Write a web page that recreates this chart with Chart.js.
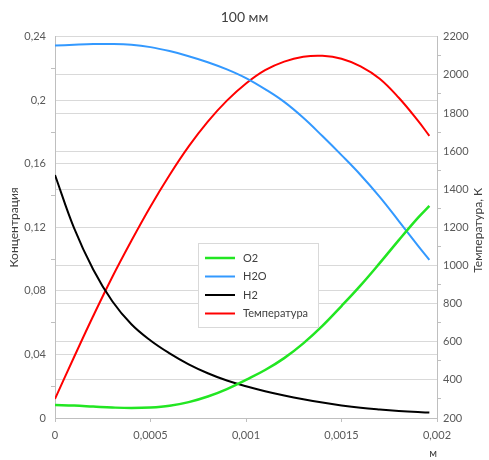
<!DOCTYPE html>
<html>
<head>
<meta charset="utf-8">
<script src="https://cdn.jsdelivr.net/npm/chart.js@4"></script>
<style>
  body { margin: 0; background: #fff; }
</style>
</head>
<body>
<canvas id="myChart" width="489" height="460"></canvas>
<script>
// distance, m
const xs = [0, 0.0001, 0.0002, 0.0003, 0.0004, 0.0005, 0.0006, 0.0007, 0.0008, 0.0009, 0.001,
    0.0011, 0.0012, 0.0013, 0.0014, 0.0015, 0.0016, 0.0017, 0.0018, 0.0019, 0.00196];

const o2 = [0.0082, 0.0078, 0.0072, 0.0066, 0.0063, 0.0066, 0.0077, 0.0100, 0.0135, 0.0182, 0.0240,
    0.0302, 0.0377, 0.0470, 0.0580, 0.0705, 0.0835, 0.0975, 0.1120, 0.1260, 0.1335];
const h2o = [0.2345, 0.2350, 0.2354, 0.2355, 0.2350, 0.2335, 0.2310, 0.2278, 0.2240, 0.2195, 0.2140,
    0.2070, 0.1990, 0.1890, 0.1775, 0.1655, 0.1530, 0.1392, 0.1240, 0.1085, 0.0995];
const h2 = [0.153, 0.1195, 0.0935, 0.0735, 0.0590, 0.0488, 0.0407, 0.0338, 0.0282, 0.0236, 0.0200,
    0.0169, 0.0142, 0.0118, 0.0097, 0.0079, 0.0064, 0.0053, 0.0044, 0.0037, 0.0034];
const temp = [300, 520, 735, 940, 1130, 1310, 1475, 1625, 1755, 1865, 1955,
    2025, 2070, 2095, 2100, 2085, 2045, 1980, 1880, 1760, 1680];

const seriesNames = ['O2', 'H2O', 'H2', 'Температура'];
const chartTitle = '100 мм';
const xTitle = 'м';
const leftTitle = 'Концентрация';
const rightTitle = 'Температура, К';

const FONT = 'Lato, "Noto Sans", "Liberation Sans", sans-serif';
const pts = (arr) => xs.map((x, i) => ({ x: x, y: arr[i] }));
const comma = (v) => String(+v.toFixed(5)).replace('.', ',');

// legend box inside the plot + right axis title reading upward
const extras = {
    id: 'extras',
    afterDraw(chart) {
        const c = chart.ctx;
        const sets = chart.data.datasets;
        const bx = 198, by = 243, bw = 120, bh = 84;
        c.save();
        c.fillStyle = '#ffffff';
        c.fillRect(bx, by, bw, bh);
        c.strokeStyle = '#d9d9d9';
        c.lineWidth = 1;
        c.strokeRect(bx + 0.5, by + 0.5, bw, bh);
        c.font = '11px ' + FONT;
        c.textBaseline = 'middle';
        sets.forEach((ds, i) => {
            const y = by + 15 + i * 18.5;
            c.strokeStyle = ds.borderColor;
            c.lineWidth = ds.borderWidth;
            c.beginPath();
            c.moveTo(bx + 7, y);
            c.lineTo(bx + 37, y);
            c.stroke();
            c.fillStyle = '#404040';
            c.fillText(ds.label, bx + 45, y);
        });
        const s = chart.scales.yT;
        c.translate(478, (s.top + s.bottom) / 2 + 3);
        c.rotate(-Math.PI / 2);
        c.textAlign = 'center';
        c.font = '12px ' + FONT;
        c.fillStyle = '#404040';
        c.fillText(rightTitle, 0, 0);
        c.restore();
    }
};

const isMajorY = (v) => Math.round(v / 0.02) % 2 === 0;
const isMajorT = (v) => Math.round(v / 100) % 2 === 0;

new Chart(document.getElementById('myChart'), {
    type: 'line',
    data: {
        datasets: [
            { label: seriesNames[0], data: pts(o2), borderColor: '#22e622', borderWidth: 2.5, yAxisID: 'y' },
            { label: seriesNames[1], data: pts(h2o), borderColor: '#3399ff', borderWidth: 2, yAxisID: 'y' },
            { label: seriesNames[2], data: pts(h2), borderColor: '#000000', borderWidth: 2, yAxisID: 'y' },
            { label: seriesNames[3], data: pts(temp), borderColor: '#ff0000', borderWidth: 2, yAxisID: 'yT' }
        ]
    },
    options: {
        responsive: false,
        animation: false,
        layout: { padding: 0 },
        elements: {
            point: { radius: 0 },
            line: { tension: 0.4 }
        },
        plugins: {
            legend: { display: false },
            tooltip: { enabled: false },
            title: {
                display: true,
                text: chartTitle,
                color: '#404040',
                font: { family: FONT, size: 14, weight: 'normal' },
                padding: { top: 9, bottom: 11 }
            }
        },
        scales: {
            x: {
                type: 'linear',
                min: 0,
                max: 0.002,
                afterFit: (s) => { s.height = 42; },
                ticks: {
                    stepSize: 0.0005,
                    padding: 7,
                    color: '#595959',
                    font: { family: FONT, size: 11 },
                    callback: (v) => comma(v)
                },
                grid: { drawOnChartArea: false, tickLength: 4, tickColor: '#bfbfbf' },
                border: { color: '#bfbfbf' },
                title: {
                    display: true,
                    text: xTitle,
                    align: 'end',
                    color: '#404040',
                    font: { family: FONT, size: 11 },
                    padding: 0
                }
            },
            y: {
                position: 'left',
                min: 0,
                max: 0.24,
                afterFit: (s) => { s.width = 55; },
                ticks: {
                    stepSize: 0.02,
                    autoSkip: false,
                    padding: 5,
                    color: '#595959',
                    font: { family: FONT, size: 11 },
                    callback: (v) => isMajorY(v) ? comma(v) : ''
                },
                grid: {
                    tickLength: 4,
                    color: (ctx) => isMajorY(ctx.tick.value) ? '#d9d9d9' : 'rgba(0,0,0,0)',
                    tickColor: (ctx) => isMajorY(ctx.tick.value) ? 'rgba(0,0,0,0)' : '#bfbfbf'
                },
                border: { color: '#bfbfbf' },
                title: {
                    display: true,
                    text: leftTitle,
                    color: '#404040',
                    font: { family: FONT, size: 12 },
                    padding: { top: 7, bottom: 0 }
                }
            },
            yT: {
                position: 'right',
                min: 200,
                max: 2200,
                afterFit: (s) => { s.width = 52; },
                ticks: {
                    stepSize: 100,
                    autoSkip: false,
                    padding: 2,
                    color: '#595959',
                    font: { family: FONT, size: 11 },
                    callback: (v) => isMajorT(v) ? String(v) : ''
                },
                grid: {
                    tickLength: 4,
                    color: (ctx) => isMajorT(ctx.tick.value) ? '#d9d9d9' : 'rgba(0,0,0,0)',
                    tickColor: (ctx) => isMajorT(ctx.tick.value) ? 'rgba(0,0,0,0)' : '#bfbfbf'
                },
                border: { color: '#bfbfbf' }
            }
        }
    },
    plugins: [extras]
});
</script>
</body>
</html>
